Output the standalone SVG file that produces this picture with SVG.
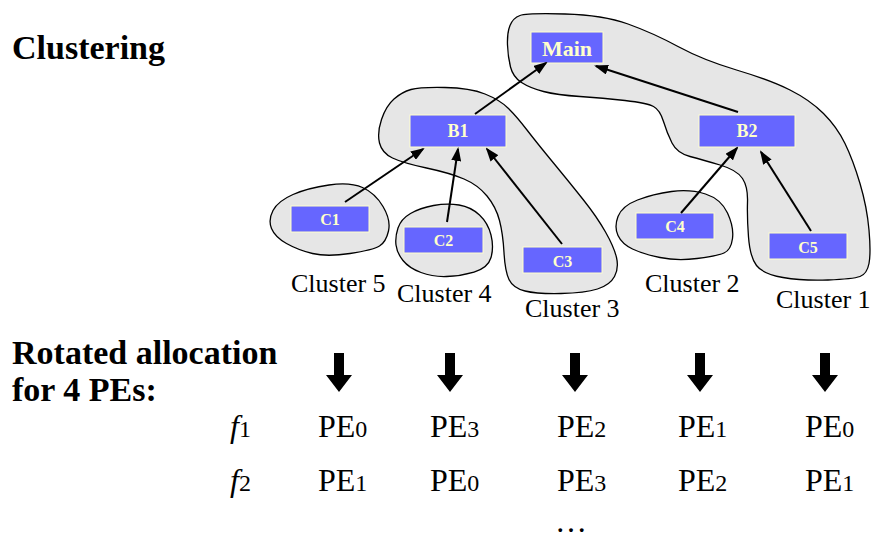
<svg xmlns="http://www.w3.org/2000/svg" width="873" height="535" viewBox="0 0 873 535">
<style>
text{font-family:'Liberation Serif','Times New Roman',Times,'DejaVu Serif',serif}
.blob{fill:#E6E6E6;stroke:#000;stroke-width:1.3}
.box{fill:#6666FF;stroke:#FFFFCC;stroke-width:1}
.bl{font-weight:bold;fill:#FFFFCC;text-anchor:middle}
.cl{font-size:26px;fill:#000}
.hd{font-weight:bold;font-size:34px;fill:#000}
.pe{font-size:32px;fill:#000}
.sub{font-size:24px}
.conn line{stroke:#000;stroke-width:2;marker-end:url(#ah)}
</style>
<defs>
<marker id="ah" viewBox="0 0 14 10" refX="12" refY="5" markerWidth="14" markerHeight="10" orient="auto" markerUnits="userSpaceOnUse"><path d="M0,0 L14,5 L0,10 Z" fill="#000"/></marker>
<path id="dn" d="M-5,353 L5,353 L5,375 L13,375 L0,392 L-13,375 L-5,375 Z" fill="#000"/>
</defs>
<rect width="873" height="535" fill="#fff"/>
<text class="hd" x="12" y="59">Clustering</text>
<g id="cluster1"><path class="blob" d="M 510,25.5 Q 513,18 520,15.5 Q 527,13 565,14 Q 603,15 628,24 Q 653,33 678,46.5 Q 703,60 736.5,70 Q 770,80 790,90 Q 810,100 823.5,113.5 Q 837,127 845,143.5 Q 853,160 860,183.5 Q 867,207 869,230 Q 871,253 869,263.5 Q 867,274 860,276.5 Q 853,279 828,280 Q 803,281 783,277.5 Q 763,274 756.5,265.5 Q 750,257 748.5,237 Q 747,217 747.5,202 Q 748,187 742.5,178.5 Q 737,170 720,165 Q 703,160 690,156.5 Q 677,153 672,143 Q 667,133 663.5,121.5 Q 660,110 653.5,106.5 Q 647,103 625,100.5 Q 603,98 580,96.5 Q 557,95 543.5,91.5 Q 530,88 521.5,82.5 Q 513,77 510.5,67 Q 508,57 507.5,45 Q 507,33 510,25.5 Z"/><text class="cl" x="776" y="308">Cluster 1</text></g>
<g id="cluster3"><path class="blob" d="M 411,89.5 Q 420,87 445,87.5 Q 470,88 485,94 Q 500,100 508.5,108.5 Q 517,117 527,130 Q 537,143 553.5,163 Q 570,183 583.5,200 Q 597,217 605.5,232 Q 614,247 616.5,257.5 Q 619,268 614.5,276.5 Q 610,285 597.5,289 Q 585,293 561,293.5 Q 537,294 525,291 Q 513,288 509,279.5 Q 505,271 504,252.5 Q 503,234 499.5,220.5 Q 496,207 487,196 Q 478,185 464,179 Q 450,173 426.5,168 Q 403,163 392.5,158 Q 382,153 379.5,143 Q 377,133 381.5,119.5 Q 386,106 394,99 Q 402,92 411,89.5 Z"/><text class="cl" x="525" y="317">Cluster 3</text></g>
<g id="cluster5"><path class="blob" d="M 273,210.5 Q 278,201 293,194.5 Q 308,188 329,185 Q 350,182 362.5,187.5 Q 375,193 383,206.5 Q 391,220 388.5,231 Q 386,242 379.5,246 Q 373,250 350,253.5 Q 327,257 312.5,253.5 Q 298,250 286.5,243.5 Q 275,237 271.5,228.5 Q 268,220 273,210.5 Z"/><text class="cl" x="291" y="292">Cluster 5</text></g>
<g id="cluster4"><path class="blob" d="M 398,228 Q 401,219 410.5,213.5 Q 420,208 433.5,205.5 Q 447,203 459,205 Q 471,207 479.5,215 Q 488,223 491,235 Q 494,247 491,257.5 Q 488,268 474,272 Q 460,276 446.5,276.5 Q 433,277 421,272.5 Q 409,268 403,260.5 Q 397,253 396,245 Q 395,237 398,228 Z"/><text class="cl" x="397" y="302">Cluster 4</text></g>
<g id="cluster2"><path class="blob" d="M 618,216.5 Q 622,206 637.5,200 Q 653,194 671.5,191.5 Q 690,189 705.5,194 Q 721,199 727.5,213 Q 734,227 732.5,238.5 Q 731,250 724,253 Q 717,256 697,258.5 Q 677,261 660,257.5 Q 643,254 632.5,249 Q 622,244 618,235.5 Q 614,227 618,216.5 Z"/><text class="cl" x="645" y="292">Cluster 2</text></g>
<g id="main"><rect class="box" x="531" y="32" width="72" height="31"/><text class="bl" x="567" y="56" font-size="22">Main</text></g>
<g id="b1"><rect class="box" x="410" y="115" width="96" height="32"/><text class="bl" x="458" y="137" font-size="18">B1</text></g>
<g id="b2"><rect class="box" x="699" y="115" width="96" height="32"/><text class="bl" x="747" y="137" font-size="18">B2</text></g>
<g id="c1"><rect class="box" x="291" y="206" width="78" height="26"/><text class="bl" x="330" y="225" font-size="16">C1</text></g>
<g id="c2"><rect class="box" x="404" y="227" width="79" height="26"/><text class="bl" x="443.5" y="246" font-size="16">C2</text></g>
<g id="c3"><rect class="box" x="523" y="247" width="79" height="26"/><text class="bl" x="562.5" y="266.5" font-size="16">C3</text></g>
<g id="c4"><rect class="box" x="636" y="213" width="78" height="26"/><text class="bl" x="675" y="231.5" font-size="16">C4</text></g>
<g id="c5"><rect class="box" x="769" y="233" width="78" height="26"/><text class="bl" x="808" y="252.5" font-size="16">C5</text></g>
<g id="connectors" class="conn">
<line x1="475" y1="114" x2="546" y2="63"/>
<line x1="738" y1="112" x2="596" y2="66"/>
<line x1="345" y1="202" x2="423" y2="149"/>
<line x1="447" y1="222" x2="458" y2="149"/>
<line x1="562" y1="244" x2="487" y2="149"/>
<line x1="681" y1="213" x2="737" y2="148"/>
<line x1="811" y1="231" x2="761" y2="152"/>
</g>
<text class="hd" x="12" y="364">Rotated allocation</text>
<text class="hd" x="12" y="401">for 4 PEs:</text>
<g id="downarrows">
<use href="#dn" x="339"/>
<use href="#dn" x="450"/>
<use href="#dn" x="575"/>
<use href="#dn" x="700"/>
<use href="#dn" x="825"/>
</g>
<g id="allocation">
<text class="pe" x="230" y="437"><tspan font-style="italic">f</tspan><tspan class="sub">1</tspan></text>
<text class="pe" x="230" y="490.5"><tspan font-style="italic">f</tspan><tspan class="sub">2</tspan></text>
<text class="pe" x="318" y="437">PE<tspan class="sub">0</tspan></text>
<text class="pe" x="430" y="437">PE<tspan class="sub">3</tspan></text>
<text class="pe" x="557" y="437">PE<tspan class="sub">2</tspan></text>
<text class="pe" x="678" y="437">PE<tspan class="sub">1</tspan></text>
<text class="pe" x="805" y="437">PE<tspan class="sub">0</tspan></text>
<text class="pe" x="318" y="490.5">PE<tspan class="sub">1</tspan></text>
<text class="pe" x="430" y="490.5">PE<tspan class="sub">0</tspan></text>
<text class="pe" x="557" y="490.5">PE<tspan class="sub">3</tspan></text>
<text class="pe" x="678" y="490.5">PE<tspan class="sub">2</tspan></text>
<text class="pe" x="805" y="490.5">PE<tspan class="sub">1</tspan></text>
<text class="pe" x="571" y="532" text-anchor="middle">…</text>
</g>
</svg>
